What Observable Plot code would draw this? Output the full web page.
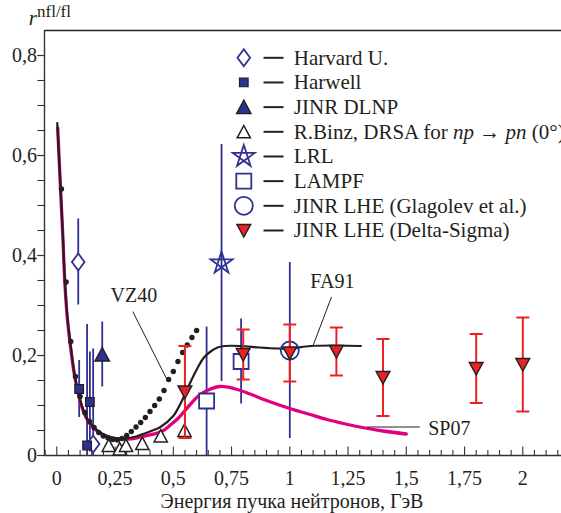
<!DOCTYPE html>
<html><head><meta charset="utf-8">
<script src="https://cdn.jsdelivr.net/npm/d3@7"></script>
<script src="https://cdn.jsdelivr.net/npm/@observablehq/plot@0.6"></script>
<style>body{margin:0;background:#fff;overflow:hidden}</style>
</head><body><div id="chart"></div>
<script>
// ---------- data ----------
const harvardX = [0.092, 0.156], harvardY = [0.387, 0.023], harvardErr = [0.086, 0.19];
const harwellX = [0.096, 0.13, 0.142], harwellY = [0.133, 0.02, 0.107], harwellErr = [0.057, 0.242, 0.1];
const dlnpX = [0.195], dlnpY = [0.202], dlnpErr = [0.065];
const binzX = [0.223, 0.27, 0.297, 0.367, 0.446, 0.548];
const binzY = [0.02, 0.013, 0.02, 0.024, 0.039, 0.05];
const lrlX = [0.707], lrlY = [0.385], lrlErr = [0.237];
const lampfX = [0.643, 0.791], lampfY = [0.109, 0.188], lampfErr = [0.148, 0.085];
const glagolevX = [1.0], glagolevY = [0.21], glagolevErr = [0.176];
const deltaX = [0.55, 0.8, 1.0, 1.2, 1.4, 1.8, 2.0];
const deltaY = [0.127, 0.202, 0.205, 0.208, 0.156, 0.174, 0.182];
const deltaErr = [0.092, 0.05, 0.057, 0.048, 0.077, 0.069, 0.094];

// SP07 (magenta curve)
const sp07X = [0.004, 0.016, 0.026, 0.034, 0.045, 0.059, 0.076, 0.095, 0.113, 0.135, 0.159, 0.19, 0.23, 0.27, 0.302, 0.34, 0.388, 0.45, 0.49, 0.52, 0.55, 0.58, 0.61, 0.65, 0.70, 0.76, 0.83, 0.9, 1.0, 1.08, 1.16, 1.23, 1.3, 1.4, 1.5];
const sp07Y = [0.655, 0.533, 0.437, 0.35, 0.275, 0.217, 0.16, 0.118, 0.09, 0.068, 0.055, 0.043, 0.036, 0.033, 0.033, 0.035, 0.04, 0.048, 0.062, 0.074, 0.09, 0.106, 0.12, 0.131, 0.138, 0.134, 0.123, 0.11, 0.094, 0.083, 0.072, 0.064, 0.057, 0.049, 0.043];
// FA91 (black curve)
const fa91X = [0.002, 0.016, 0.026, 0.034, 0.045, 0.059, 0.076, 0.095, 0.113, 0.135, 0.16, 0.19, 0.23, 0.27, 0.30, 0.34, 0.37, 0.40, 0.445, 0.50, 0.52, 0.55, 0.575, 0.603, 0.63, 0.66, 0.69, 0.72, 0.79, 0.87, 0.95, 1.0, 1.09, 1.2, 1.305];
const fa91Y = [0.665, 0.537, 0.44, 0.355, 0.28, 0.222, 0.163, 0.12, 0.092, 0.07, 0.056, 0.045, 0.037, 0.034, 0.034, 0.038, 0.043, 0.048, 0.057, 0.079, 0.094, 0.122, 0.148, 0.174, 0.195, 0.208, 0.216, 0.219, 0.219, 0.216, 0.214, 0.214, 0.219, 0.22, 0.219];
// VZ40 (dotted)
const vz40X = [0.02, 0.04, 0.06, 0.08, 0.10, 0.12, 0.14, 0.16, 0.18, 0.20, 0.22, 0.24, 0.26, 0.28, 0.30, 0.32, 0.34, 0.36, 0.38, 0.40, 0.42, 0.44, 0.46, 0.48, 0.50, 0.52, 0.54, 0.56, 0.58, 0.60];
const vz40Y = [0.533, 0.347, 0.228, 0.158, 0.118, 0.086, 0.068, 0.056, 0.046, 0.039, 0.035, 0.032, 0.031, 0.034, 0.04, 0.048, 0.057, 0.066, 0.076, 0.088, 0.1, 0.113, 0.13, 0.152, 0.168, 0.188, 0.206, 0.221, 0.236, 0.25];

// annotations
const annoLabels = ["VZ40", "FA91", "SP07"];
const annoX = [0.2305, 1.088, 1.594], annoY = [0.3066, 0.336, 0.042];
const leaderX1 = [0.326, 1.179, 1.332], leaderY1 = [0.288, 0.317, 0.057];
const leaderX2 = [0.475, 1.1, 1.558], leaderY2 = [0.15, 0.22, 0.057];

// ticks
const xTickValues = [0, 0.25, 0.5, 0.75, 1, 1.25, 1.5, 1.75, 2];
const xTickLabels = ["0", "0,25", "0,5", "0,75", "1", "1,25", "1,5", "1,75", "2"];
const yTickValues = [0, 0.2, 0.4, 0.6, 0.8];
const yTickLabels = ["0", "0,2", "0,4", "0,6", "0,8"];
const xTitle = "Энергия пучка нейтронов, ГэВ";
const legendLabels = ["Harvard U.", "Harwell", "JINR DLNP", "R.Binz, DRSA for np → pn (0°)", "LRL", "LAMPF", "JINR LHE (Glagolev et al.)", "JINR LHE (Delta-Sigma)"];

// ---------- styling ----------
const W = 561, H = 513, ML = 44, MR = 0, MT = 30, MB = 58;
const FONT = "Liberation Serif";
const blue = "#2e3192", red = "#ed2024", magenta = "#e4007c", ink = "#231f20", axisInk = "#333";

const zip = (xs, ys, es) => xs.map((x, i) => ({x, y: ys[i], e: es ? es[i] : 0}));
const harvard = zip(harvardX, harvardY, harvardErr);
const harwell = zip(harwellX, harwellY, harwellErr);
const dlnp = zip(dlnpX, dlnpY, dlnpErr);
const binz = zip(binzX, binzY);
const lrl = zip(lrlX, lrlY, lrlErr);
const lampf = zip(lampfX, lampfY, lampfErr);
const glag = zip(glagolevX, glagolevY, glagolevErr);
const delta = zip(deltaX, deltaY, deltaErr);
const sp07 = zip(sp07X, sp07Y), fa91 = zip(fa91X, fa91Y), vz40 = zip(vz40X, vz40Y);
const annos = annoLabels.map((t, i) => ({t, x: annoX[i], y: annoY[i]}));
const leaders = leaderX1.map((x1, i) => ({x1, y1: leaderY1[i], x2: leaderX2[i], y2: leaderY2[i]}));

const sym = f => ({draw(c) { f(c); }});
const diamondSym = sym(c => { c.moveTo(0, -8.5); c.lineTo(6.3, 0); c.lineTo(0, 8.5); c.lineTo(-6.3, 0); c.closePath(); });
const smallSquareSym = sym(c => { c.rect(-4.3, -4.3, 8.6, 8.6); });
const bigSquareSym = sym(c => { c.rect(-7.5, -7.5, 15, 15); });
const triUpBig = sym(c => { c.moveTo(0, -7); c.lineTo(7.2, 6.5); c.lineTo(-7.2, 6.5); c.closePath(); });
const triUp = sym(c => { c.moveTo(0, -6.3); c.lineTo(6.6, 6); c.lineTo(-6.6, 6); c.closePath(); });
const triDown = sym(c => { c.moveTo(-6.8, -6); c.lineTo(6.8, -6); c.lineTo(0, 6.5); c.closePath(); });
const circleSym = sym(c => { c.moveTo(9, 0); c.arc(0, 0, 9, 0, 2 * Math.PI); });
const starSym = sym(c => {
  const R = 11.5, pts = [0, 2, 4, 1, 3].map(k => {
    const a = -Math.PI / 2 + k * 2 * Math.PI / 5; return [R * Math.cos(a), R * Math.sin(a)];
  });
  c.moveTo(...pts[0]); for (let i = 1; i < 5; i++) c.lineTo(...pts[i]); c.closePath();
});
const capSym = sym(c => { c.moveTo(-6.5, 0); c.lineTo(6.5, 0); });
const dashSym = sym(c => { c.moveTo(-10, 0); c.lineTo(10, 0); });

const markerStyles = [
  {symbol: diamondSym, fill: "white", stroke: blue, strokeWidth: 1.8},
  {symbol: smallSquareSym, fill: blue, stroke: ink, strokeWidth: 1.2},
  {symbol: triUpBig, fill: blue, stroke: ink, strokeWidth: 1.4},
  {symbol: triUp, fill: "white", stroke: ink, strokeWidth: 1.5},
  {symbol: starSym, fill: "none", stroke: blue, strokeWidth: 1.8},
  {symbol: bigSquareSym, fill: "white", stroke: blue, strokeWidth: 1.8},
  {symbol: circleSym, fill: "none", stroke: blue, strokeWidth: 1.8},
  {symbol: triDown, fill: red, stroke: ink, strokeWidth: 1.5}
];

const errBars = (data, color, w) => Plot.ruleX(data, {x: "x", y1: d => Math.max(0, d.y - d.e), y2: d => d.y + d.e, stroke: color, strokeWidth: w});
const pts = (data, st) => Plot.dot(data, {x: "x", y: "y", ...st});

const frameH = H - MT - MB;
const xMinor = d3.range(-1, 44).filter(i => i % 5 !== 0).map(i => i * 0.05);
const yMinor = d3.range(0, 17).map(i => i * 0.05).filter(v => v < 0.81);
const yTop = 0.85;

const marks = [
  // frame: top, left and bottom lines (right side is outside the picture)
  Plot.ruleY([yTop], {y: d => d, stroke: "#222", strokeWidth: 1.6}),
  Plot.ruleY([0], {y: d => d, stroke: axisInk, strokeWidth: 1.4}),
  Plot.ruleX([-0.0528], {x: d => d, stroke: axisInk, strokeWidth: 1.4}),
  // x ticks (inward)
  Plot.tickX(xMinor, {x: d => d, insetTop: frameH - 5, stroke: axisInk, strokeWidth: 1.1}),
  Plot.tickX(xTickValues, {x: d => d, insetTop: frameH - 8.5, stroke: axisInk, strokeWidth: 1.1}),
  Plot.axisX(xTickValues, {tickSize: 0, tickPadding: 15, tickFormat: d => xTickLabels[xTickValues.indexOf(d)], fontSize: 20, fontFamily: FONT, fill: ink, label: null}),
  // y ticks (outward)
  Plot.axisY(yMinor, {tickSize: 6.6, tickFormat: () => "", stroke: axisInk, strokeWidth: 1.1, label: null}),
  Plot.axisY(yTickValues, {tickSize: 6.6, tickPadding: 1, tickFormat: d => yTickLabels[yTickValues.indexOf(d)], fontSize: 20, fontFamily: FONT, fill: ink, stroke: axisInk, strokeWidth: 1.1, label: null}),
  // titles
  Plot.text([xTitle], {frameAnchor: "bottom", dx: -11, dy: 52, lineAnchor: "bottom", text: d => d, fontSize: 20, fontFamily: FONT, fill: ink}),
  Plot.text(["r"], {frameAnchor: "top-left", dx: -15.7, dy: -6, textAnchor: "start", lineAnchor: "bottom", text: d => d, fontSize: 21, fontStyle: "italic", fontFamily: FONT, fill: ink}),
  Plot.text(["nfl/fl"], {frameAnchor: "top-left", dx: -7.5, dy: -13.3, textAnchor: "start", lineAnchor: "bottom", text: d => d, fontSize: 17, fontFamily: FONT, fill: ink}),
  // blue error bars
  errBars(harvard, blue, 1.8), errBars(harwell, blue, 1.8), errBars(dlnp, blue, 1.8),
  errBars(lrl, blue, 1.8), errBars(lampf, blue, 1.8), errBars(glag, blue, 1.8),
  // curves
  Plot.line(sp07, {x: "x", y: "y", stroke: magenta, strokeWidth: 3.3, curve: "catmull-rom"}),
  Plot.line(fa91, {x: "x", y: "y", stroke: ink, strokeWidth: 2.2, curve: "catmull-rom"}),
  Plot.dot(vz40, {x: "x", y: "y", r: 2.7, fill: ink, stroke: "none"}),
  Plot.link(leaders, {x1: "x1", y1: "y1", x2: "x2", y2: "y2", stroke: ink, strokeWidth: 1}),
  Plot.text(annos, {x: "x", y: "y", text: "t", textAnchor: "start", lineAnchor: "bottom", fontSize: 20, fontFamily: FONT, fill: ink}),
  // markers
  pts(binz, markerStyles[3]), pts(lampf, markerStyles[5]), pts(harvard, markerStyles[0]),
  pts(harwell, markerStyles[1]), pts(dlnp, markerStyles[2]), pts(lrl, markerStyles[4]), pts(glag, markerStyles[6]),
  // red
  errBars(delta, red, 2),
  Plot.dot(delta, {x: "x", y: d => d.y + d.e, symbol: capSym, stroke: red, strokeWidth: 2, fill: "none"}),
  Plot.dot(delta, {x: "x", y: d => d.y - d.e, symbol: capSym, stroke: red, strokeWidth: 2, fill: "none"}),
  pts(delta, markerStyles[7])
];

// legend
const legRow0 = 57.3, legStep = 24.67, legSymX = 243.3, legDashX = 273, legTextX = 293.3;
legendLabels.forEach((lab, i) => {
  const dy = legRow0 + i * legStep - MT;
  marks.push(Plot.dot([0], {frameAnchor: "top-left", dx: legSymX - ML, dy, ...markerStyles[i]}));
  marks.push(Plot.dot([0], {frameAnchor: "top-left", dx: legDashX - ML, dy, symbol: dashSym, stroke: ink, strokeWidth: 2, fill: "none"}));
  marks.push(Plot.text([lab], {frameAnchor: "top-left", dx: legTextX - ML, dy, text: d => d, textAnchor: "start", lineAnchor: "middle", fontSize: 21, fontFamily: FONT, fill: ink}));
});

const chart = Plot.plot({
  width: W, height: H,
  marginLeft: ML, marginRight: MR, marginTop: MT, marginBottom: MB,
  x: {domain: [-0.0528, 2.1661]},
  y: {domain: [0, yTop]},
  style: {background: "white", overflow: "visible"},
  marks
});
chart.setAttribute("font-family", FONT);
document.getElementById("chart").appendChild(chart);

// italic parts in the R.Binz legend entry
d3.select(chart).selectAll("text").filter(function () { return this.textContent === legendLabels[3]; }).each(function () {
  const el = d3.select(this); el.text("");
  [["R.Binz, DRSA for ", false], ["np", true], [" → ", false], ["pn", true], [" (0°)", false]].forEach(([t, it]) => {
    const s = el.append("tspan").text(t); if (it) s.attr("font-style", "italic");
  });
});
d3.select(chart).selectAll("text").style("font-family", "'Liberation Serif'");
</script>
</body></html>
